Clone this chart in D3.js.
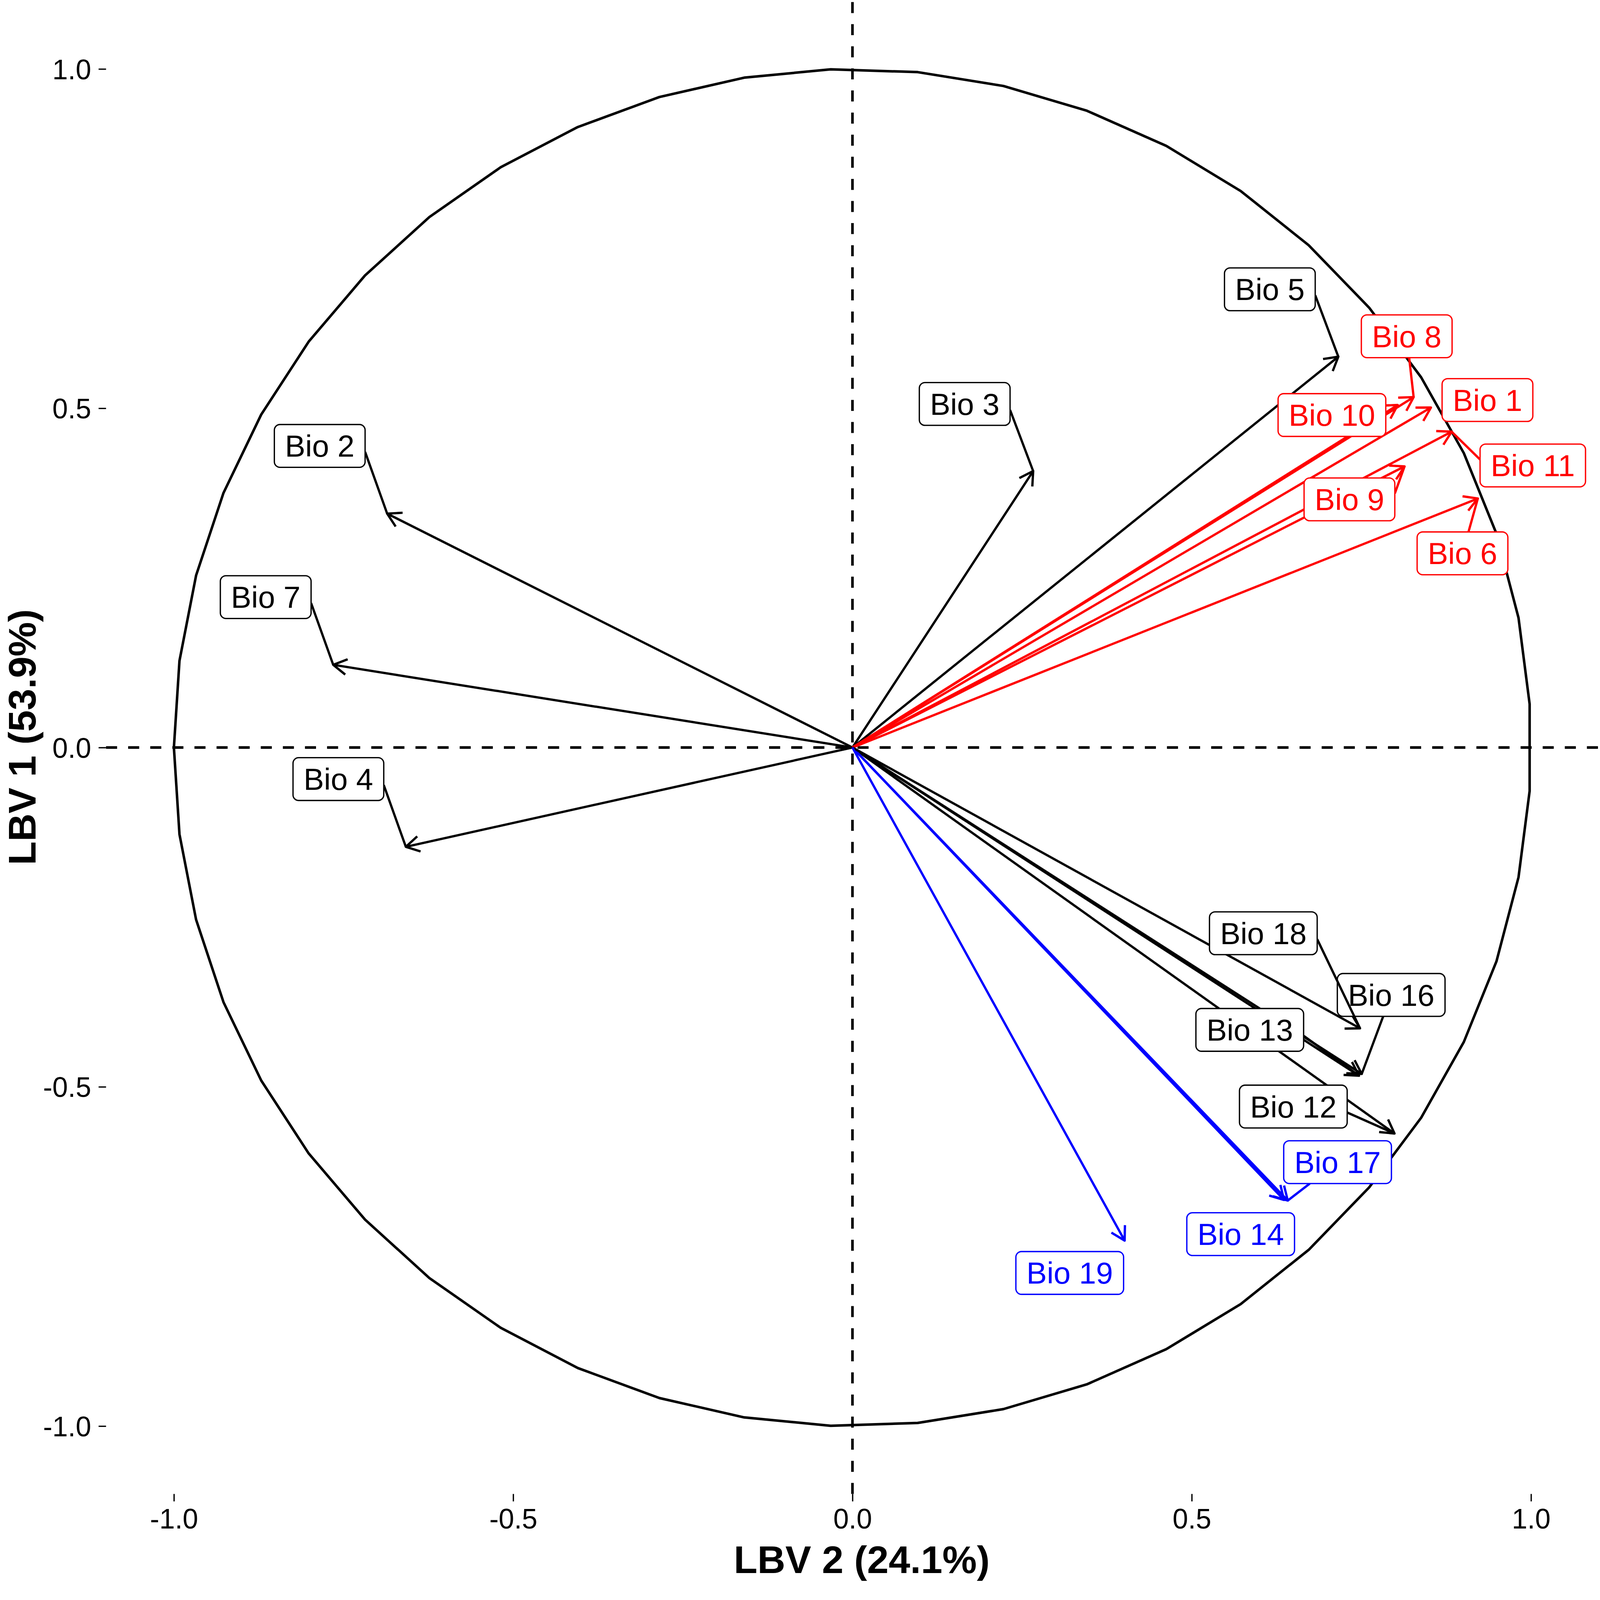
<!DOCTYPE html>
<html>
<head>
<meta charset="utf-8">
<script src="https://cdn.jsdelivr.net/npm/d3@7/dist/d3.min.js"></script>
<style>
  html, body { margin: 0; padding: 0; background: #ffffff; width: 100%; height: 100%; overflow: hidden; }
  svg { display: block; width: 100vw; height: 100vh; }
</style>
</head>
<body>
<svg id="chart" viewBox="0 0 4300 4258" preserveAspectRatio="xMinYMin meet"></svg>
<script>
// ---------------- DATA ----------------
const variables = ["Bio 1","Bio 2","Bio 3","Bio 4","Bio 5","Bio 6","Bio 7","Bio 8","Bio 9",
                   "Bio 10","Bio 11","Bio 12","Bio 13","Bio 14","Bio 16","Bio 17","Bio 18","Bio 19"];
// loadings on LBV 2 (horizontal) and LBV 1 (vertical)
const lbv2 = [0.8525,-0.6857,0.2663,-0.6582,0.7160,0.9216,-0.7652,0.8270,0.8136,
              0.8035,0.8830,0.7988,0.7465,0.6360,0.7505,0.6415,0.7480,0.4011];
const lbv1 = [0.5011,0.3447,0.4074,-0.1463,0.5760,0.3670,0.1219,0.5164,0.4143,
              0.5048,0.4655,-0.5688,-0.4836,-0.6667,-0.4810,-0.6676,-0.4138,-0.7266];
const groups = ["temp","other","other","other","other","temp","other","temp","temp",
                "temp","temp","other","other","dry","other","dry","other","dry"];
// repelled label positions (data units)
const labelLbv2 = [0.9358,-0.7851,0.1654,-0.7576,0.6151,0.8990,-0.8647,0.8168,0.7324,
                   0.7066,1.0026,0.6497,0.5855,0.5721,0.7939,0.7149,0.6055,0.3202];
const labelLbv1 = [0.5121,0.4445,0.5063,-0.0465,0.6753,0.2862,0.2217,0.6061,0.3657,
                   0.4900,0.4157,-0.5291,-0.4161,-0.7171,-0.3646,-0.6110,-0.2737,-0.7743];
const xTicks = [-1.0,-0.5,0.0,0.5,1.0];
const yTicks = [-1.0,-0.5,0.0,0.5,1.0];
const xTitle = "LBV 2 (24.1%)";
const yTitle = "LBV 1 (53.9%)";
const circleSegments = 49;

// ---------------- STYLE ----------------
const colors = { temp: "#FF0000", dry: "#0000FF", other: "#000000" };
const FONT = "'Liberation Sans', Arial, Helvetica, sans-serif";
const labelFont = 82, tickFont = 75, titleFont = 104;
const lineW = 6.2, circleW = 6.8, dashW = 7;

// ---------------- SCALES ----------------
const x = d3.scaleLinear().domain([-1.1, 1.1]).range([285, 4297]);
const y = d3.scaleLinear().domain([-1.1, 1.1]).range([4015, 3]);

const svg = d3.select("#chart");
svg.append("rect").attr("width", 4300).attr("height", 4258).attr("fill", "#fff");

// ---------------- AXES ----------------
const fmt = d => d.toFixed(1);
const gx = svg.append("g").attr("transform", `translate(0,${y.range()[0]})`)
  .call(d3.axisBottom(x).tickValues(xTicks).tickFormat(fmt).tickSize(20).tickPadding(20));
const gy = svg.append("g").attr("transform", `translate(${x.range()[0]},0)`)
  .call(d3.axisLeft(y).tickValues(yTicks).tickFormat(fmt).tickSize(20).tickPadding(20));
[gx, gy].forEach(g => {
  g.select(".domain").remove();
  g.selectAll(".tick line").attr("stroke", "#000").attr("stroke-width", 3.5);
  g.selectAll(".tick text").attr("fill", "#000").style("font-family", FONT).style("font-size", tickFont + "px");
});
gy.selectAll(".tick text").attr("dy", "0.36em");

// titles
svg.append("text")
  .attr("x", (x.range()[0] + x.range()[1]) / 2 + 25)
  .attr("y", 4228)
  .attr("text-anchor", "middle")
  .style("font-family", FONT).style("font-weight", "bold").style("font-size", titleFont + "px")
  .text(xTitle);
svg.append("text")
  .attr("transform", `translate(96,${(y.range()[0] + y.range()[1]) / 2 - 28}) rotate(-90)`)
  .attr("text-anchor", "middle")
  .style("font-family", FONT).style("font-weight", "bold").style("font-size", titleFont + "px")
  .text(yTitle);

// ---------------- REFERENCE LINES ----------------
svg.append("line")
  .attr("x1", x.range()[0]).attr("x2", x.range()[1]).attr("y1", y(0)).attr("y2", y(0))
  .attr("stroke", "#000").attr("stroke-width", dashW).attr("stroke-dasharray", "29.7 29.7");
svg.append("line")
  .attr("x1", x(0)).attr("x2", x(0)).attr("y1", y.range()[0]).attr("y2", y.range()[1])
  .attr("stroke", "#000").attr("stroke-width", dashW).attr("stroke-dasharray", "29.7 29.7");

// ---------------- CORRELATION CIRCLE ----------------
const circlePts = d3.range(circleSegments + 1).map(k => {
  const a = Math.PI + k * 2 * Math.PI / circleSegments;
  return [Math.cos(a), Math.sin(a)];
});
svg.append("path")
  .attr("d", d3.line().x(d => x(d[0])).y(d => y(d[1]))(circlePts))
  .attr("fill", "none").attr("stroke", "#000").attr("stroke-width", circleW)
  .attr("stroke-linejoin", "round");

// ---------------- ARROWS ----------------
const rows = variables.map((v, i) => ({
  name: v, vx: lbv2[i], vy: lbv1[i], lx: labelLbv2[i], ly: labelLbv1[i], col: colors[groups[i]]
}));

function arrowHead(x1, y1, x2, y2, len) {
  const a = Math.atan2(y2 - y1, x2 - x1);
  const w1 = a + Math.PI - Math.PI / 6, w2 = a + Math.PI + Math.PI / 6;
  return `M${x2 + len * Math.cos(w1)},${y2 + len * Math.sin(w1)}L${x2},${y2}L${x2 + len * Math.cos(w2)},${y2 + len * Math.sin(w2)}`;
}

const arrows = svg.append("g");
rows.forEach(r => {
  const x0 = x(0), y0 = y(0), x1 = x(r.vx), y1 = y(r.vy);
  arrows.append("line").attr("x1", x0).attr("y1", y0).attr("x2", x1).attr("y2", y1)
    .attr("stroke", r.col).attr("stroke-width", lineW);
  arrows.append("path").attr("d", arrowHead(x0, y0, x1, y1, 41.5))
    .attr("fill", "none").attr("stroke", r.col).attr("stroke-width", lineW)
    .attr("stroke-linejoin", "round");
});

// ---------------- LABELS (repel-style) ----------------
const clamp = (v, a, b) => Math.max(a, Math.min(b, v));
function attach(b, p) {
  const tol = 10, off = 16;
  const inX = p[0] >= b.x0 - tol && p[0] <= b.x1 + tol;
  const inY = p[1] >= b.y0 - tol && p[1] <= b.y1 + tol;
  if (inX && inY) return null;
  if (inX) {
    const ey = p[1] < b.cy ? b.y0 : b.y1;
    const t = (ey - b.cy) / (p[1] - b.cy);
    return [clamp(b.cx + t * (p[0] - b.cx), b.x0, b.x1), ey];
  }
  if (inY) {
    const ex = p[0] < b.cx ? b.x0 : b.x1;
    const t = (ex - b.cx) / (p[0] - b.cx);
    return [ex, clamp(b.cy + t * (p[1] - b.cy), b.y0, b.y1)];
  }
  const ex = p[0] < b.cx ? b.x0 : b.x1;
  return [ex, b.cy + (p[1] < b.cy ? -off : off)];
}

const labels = svg.append("g");
const padX = 28.5, boxH = 115, minSeg = 60;
rows.forEach(r => {
  const g = labels.append("g");
  const cx = x(r.lx), cy = y(r.ly);
  const txt = g.append("text")
    .attr("x", cx).attr("y", cy + 0.355 * labelFont)
    .attr("text-anchor", "middle")
    .attr("fill", r.col)
    .style("font-family", FONT).style("font-size", labelFont + "px")
    .text(r.name);
  const w = txt.node().getComputedTextLength() + 2 * padX;
  const b = { x0: cx - w / 2, x1: cx + w / 2, y0: cy - boxH / 2, y1: cy + boxH / 2, cx, cy };
  const tip = [x(r.vx), y(r.vy)];
  const a = attach(b, tip);
  if (a && Math.hypot(tip[0] - a[0], tip[1] - a[1]) > minSeg) {
    g.insert("line", "text")
      .attr("x1", a[0]).attr("y1", a[1]).attr("x2", tip[0]).attr("y2", tip[1])
      .attr("stroke", r.col).attr("stroke-width", lineW);
  }
  g.insert("rect", "text")
    .attr("x", b.x0).attr("y", b.y0).attr("width", w).attr("height", boxH)
    .attr("rx", 15).attr("ry", 15)
    .attr("fill", "#fff").attr("stroke", r.col).attr("stroke-width", 3.5);
});
</script>
</body>
</html>
